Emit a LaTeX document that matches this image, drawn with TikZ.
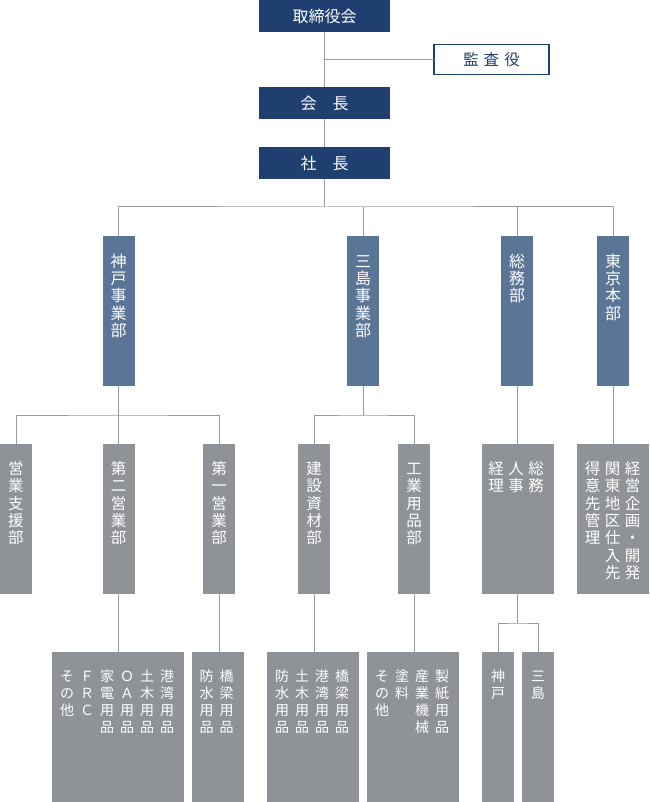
\documentclass[tikz,border=0pt]{standalone}
\usepackage{fontspec}
\setmainfont{Noto Sans CJK JP}
\definecolor{navy}{HTML}{1E3F6F}
\definecolor{slate}{HTML}{5B7597}
\definecolor{boxgray}{HTML}{8F9296}
\definecolor{linegray}{HTML}{9A9A9A}
\newdimen\vpitch \vpitch=17pt
\newdimen\vcolw \vcolw=20pt
\makeatletter
\def\vc@loop#1{\ifx\relax#1\else\hbox to\vcolw{\hss#1\hss}\expandafter\vc@loop\fi}
\newcommand\vcol[1]{\vtop{\lineskiplimit=-\maxdimen\baselineskip=\vpitch\relax\vc@loop#1\relax}}
\makeatother
% width, height, baseline offset, content
\newcommand\bx[4]{\vbox to #2{\vskip#3\hbox to #1{\hss\smash{#4}\hss}\vss}}
\begin{document}
\begin{tikzpicture}[x=1pt,y=-1pt,
  conn/.style={draw=linegray,line width=1pt},
  topbox/.style={fill=navy,text=white,inner sep=0pt,outer sep=0pt,
    minimum width=131pt,minimum height=32pt,font=\fontsize{16}{18}\selectfont},
  kansabox/.style={draw=navy,line width=1.3pt,fill=white,text=navy,inner sep=0pt,outer sep=0pt,
    minimum width=115pt,minimum height=30pt,font=\fontsize{15.5}{18}\selectfont},
  ltwo/.style={fill=slate,text=white,inner sep=0pt,outer sep=0pt,
    font=\fontsize{16}{17.3}\selectfont,execute at begin node={\vpitch=17.3pt\vcolw=20pt}},
  lthree/.style={fill=boxgray,text=white,inner sep=0pt,outer sep=0pt,
    font=\fontsize{15.5}{17.3}\selectfont,execute at begin node={\vpitch=17.3pt\vcolw=20pt}},
  lfour/.style={fill=boxgray,text=white,inner sep=0pt,outer sep=0pt,
    font=\fontsize{14}{17}\selectfont,execute at begin node={\vpitch=17pt\vcolw=20pt}}
]
\useasboundingbox (0,0) rectangle (649,802);
% top
\node[topbox] (torishimari) at (324.5,16) {取締役会};
\node[kansabox] (kansa) at (491.5,59.8) {監\hspace{5pt}査\hspace{5pt}役};
\node[topbox] (kaicho) at (324.5,103) {会　長};
\node[topbox] (shacho) at (324.5,163) {社　長};
% level 2
\node[ltwo] (kobe) at (118.5,311) {\bx{32pt}{150pt}{31.3pt}{\vcol{神戸事業部}}};
\node[ltwo] (mishima) at (363,311) {\bx{32pt}{150pt}{31.3pt}{\vcol{三島事業部}}};
\node[ltwo] (somu) at (517,311) {\bx{32pt}{150pt}{31.3pt}{\vcol{総務部}}};
\node[ltwo] (tokyo) at (613,311) {\bx{32pt}{150pt}{31.3pt}{\vcol{東京本部}}};
% level 3
\node[lthree] (shien) at (16,518.75) {\bx{32pt}{149.5pt}{30.6pt}{\vcol{営業支援部}}};
\node[lthree] (daini) at (118.5,518.75) {\bx{32pt}{149.5pt}{30.6pt}{\vcol{第二営業部}}};
\node[lthree] (daiichi) at (219,518.75) {\bx{32pt}{149.5pt}{30.6pt}{\vcol{第一営業部}}};
\node[lthree] (kensetsu) at (314,518.75) {\bx{32pt}{149.5pt}{30.6pt}{\vcol{建設資材部}}};
\node[lthree] (kogyo) at (414,518.75) {\bx{32pt}{149.5pt}{30.6pt}{\vcol{工業用品部}}};
\node[lthree] (somu3) at (517.5,518.75) {\bx{72pt}{149.5pt}{30.6pt}{\vcol{経理}\vcol{人事}\vcol{総務}\kern3pt}};
\node[lthree] (tokyo3) at (613,518.75) {\bx{72pt}{149.5pt}{30.6pt}{\vcol{得意先管理}\vcol{関東地区仕入先}\vcol{経営企画・開発}\kern1pt}};
% level 4
\node[lfour] (l4a) at (118,727) {\bx{132pt}{150pt}{29.6pt}{\vcol{その他}\vcol{ＦＲＣ}\vcol{家電用品}\vcol{ＯＡ用品}\vcol{土木用品}\vcol{港湾用品}\kern2pt}};
\node[lfour] (l4b) at (218,727) {\bx{52pt}{150pt}{29.6pt}{\vcol{防水用品}\vcol{橋梁用品}\kern3pt}};
\node[lfour] (l4c) at (313,727) {\bx{92pt}{150pt}{29.6pt}{\vcol{防水用品}\vcol{土木用品}\vcol{港湾用品}\vcol{橋梁用品}\kern2pt}};
\node[lfour] (l4d) at (413,727) {\bx{92pt}{150pt}{29.6pt}{\vcol{その他}\vcol{塗料}\vcol{産業機械}\vcol{製紙用品}\kern2pt}};
\node[lfour] (l4e) at (498,727) {\bx{32pt}{150pt}{29.6pt}{\vcol{神戸}}};
\node[lfour] (l4f) at (538,727) {\bx{32pt}{150pt}{29.6pt}{\vcol{三島}}};
% connectors
\draw[conn] (torishimari.south) -- (kaicho.north);
\draw[conn] (kansa.west) -- (kansa.west -| kaicho.north);
\draw[conn] (kaicho.south) -- (shacho.north);
\coordinate (bus1) at (324.5,207);
\draw[conn] (shacho.south) -- (bus1);
\draw[conn] (kobe.north) |- (bus1) -| (tokyo.north);
\draw[conn] (mishima.north) -- (mishima.north |- bus1);
\draw[conn] (somu.north) -- (somu.north |- bus1);
\coordinate (bus2) at (118.5,415);
\draw[conn] (kobe.south) -- (bus2);
\draw[conn] (shien.north) |- (bus2) -| (daiichi.north);
\draw[conn] (daini.north) -- (daini.north |- bus2);
\coordinate (bus3) at (363,415);
\draw[conn] (mishima.south) -- (bus3);
\draw[conn] (kensetsu.north) |- (bus3) -| (kogyo.north);
\draw[conn] (somu.south) -- (somu.south |- somu3.north);
\draw[conn] (tokyo.south) -- (tokyo3.north);
\draw[conn] (daini.south) -- (daini.south |- l4a.north);
\draw[conn] (daiichi.south) -- (daiichi.south |- l4b.north);
\draw[conn] (kensetsu.south) -- (kensetsu.south |- l4c.north);
\draw[conn] (kogyo.south) -- (kogyo.south |- l4d.north);
\coordinate (bus4) at (517.5,623);
\draw[conn] (somu3.south) -- (bus4);
\draw[conn] (l4e.north) |- (bus4) -| (l4f.north);
\end{tikzpicture}
\end{document}
